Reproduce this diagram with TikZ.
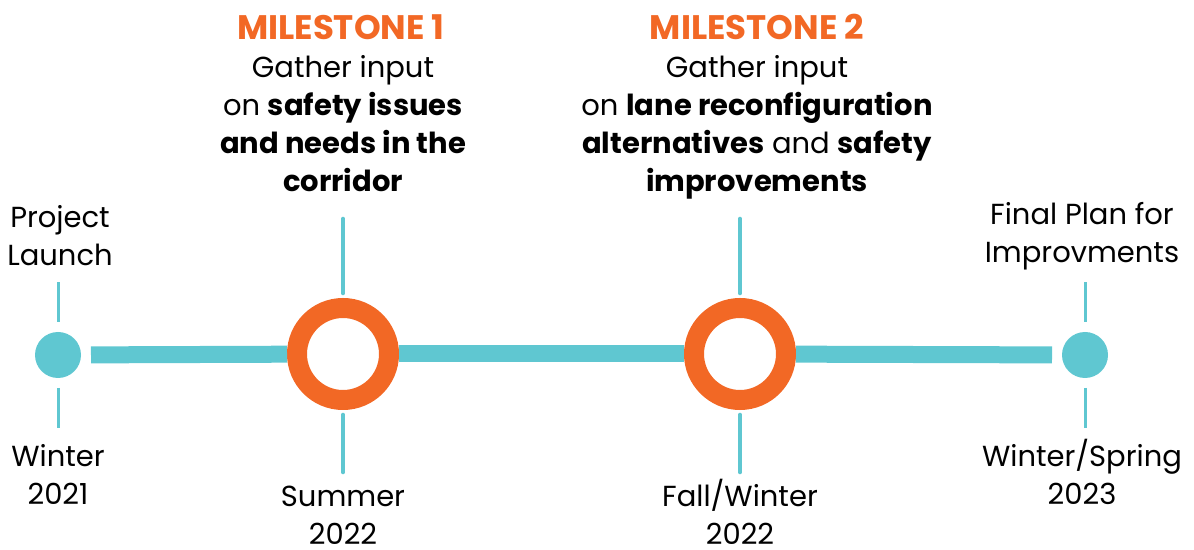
\documentclass[tikz,border=0pt]{standalone}
\usepackage{fontspec}
\setmainfont{Poppins}
\definecolor{lineblue}{RGB}{95,199,209}
\definecolor{mileorange}{RGB}{242,104,37}

\begin{document}
\begin{tikzpicture}[x=0.5pt,y=-0.5pt,
  dot/.style={circle,fill=lineblue,minimum size=23pt,inner sep=0pt,outer sep=5pt},
  ring/.style={circle,draw=mileorange,line width=10pt,minimum size=46pt,inner sep=0pt},
  bar/.style={lineblue,line width=8.5pt},
  tick/.style={lineblue,line width=1.5pt},
  bigtick/.style={lineblue,line width=2.3pt,line cap=round},
  txt/.style={align=center,anchor=base,inner sep=0pt,font=\fontsize{14.5}{19}\selectfont},
  mtitle/.style={anchor=base,inner sep=0pt,text=mileorange,font=\bfseries\fontsize{17}{19}\selectfont}]
\useasboundingbox (0,0) rectangle (1194,550);

% the time line
\node[dot] (start) at (58,355) {};
\node[ring] (mileA) at (343,354) {};
\node[ring] (mileB) at (740,354) {};
\node[dot] (finish) at (1085,355) {};
\draw[bar] (start) -- (mileA);
\draw[bar] (mileA) -- (mileB);
\draw[bar] (mileB) -- (finish);

% ticks
\draw[tick] (start.north) -- ++(0,-40);
\draw[tick] (start.south) -- ++(0,40);
\draw[tick] (finish.north) -- ++(0,-40);
\draw[tick] (finish.south) -- ++(0,40);
\draw[bigtick] ([yshift=2.5pt]mileA.north) -- ++(0,-74);
\draw[bigtick] ([yshift=-2.5pt]mileA.south) -- ++(0,57);
\draw[bigtick] ([yshift=2.5pt]mileB.north) -- ++(0,-74);
\draw[bigtick] ([yshift=-2.5pt]mileB.south) -- ++(0,57);

% labels (anchored on the last line)
\node[txt] (launch) at (60,266) {Project\\Launch};
\node[txt] (winterA) at (58,504) {Winter\\2021};
\node[txt] (summer) at (343,545) {Summer\\2022};
\node[txt] (fall) at (740,545) {Fall/Winter\\2022};
\node[txt] (plan) at (1082,263) {Final Plan for\\Improvments};
\node[txt] (winterB) at (1082,504) {Winter/Spring\\2023};

\node[mtitle] (titleA) at (341,40) {MILESTONE 1};
\node[txt] (textA) at (343,192) {Gather input\\on \textbf{safety issues}\\\textbf{and needs in the}\\\textbf{corridor}};
\node[mtitle] (titleB) at (757,40) {MILESTONE 2};
\node[txt] (textB) at (757,192) {Gather input\\on \textbf{lane reconfiguration}\\\textbf{alternatives} and \textbf{safety}\\\textbf{improvements}};
\end{tikzpicture}
\end{document}
